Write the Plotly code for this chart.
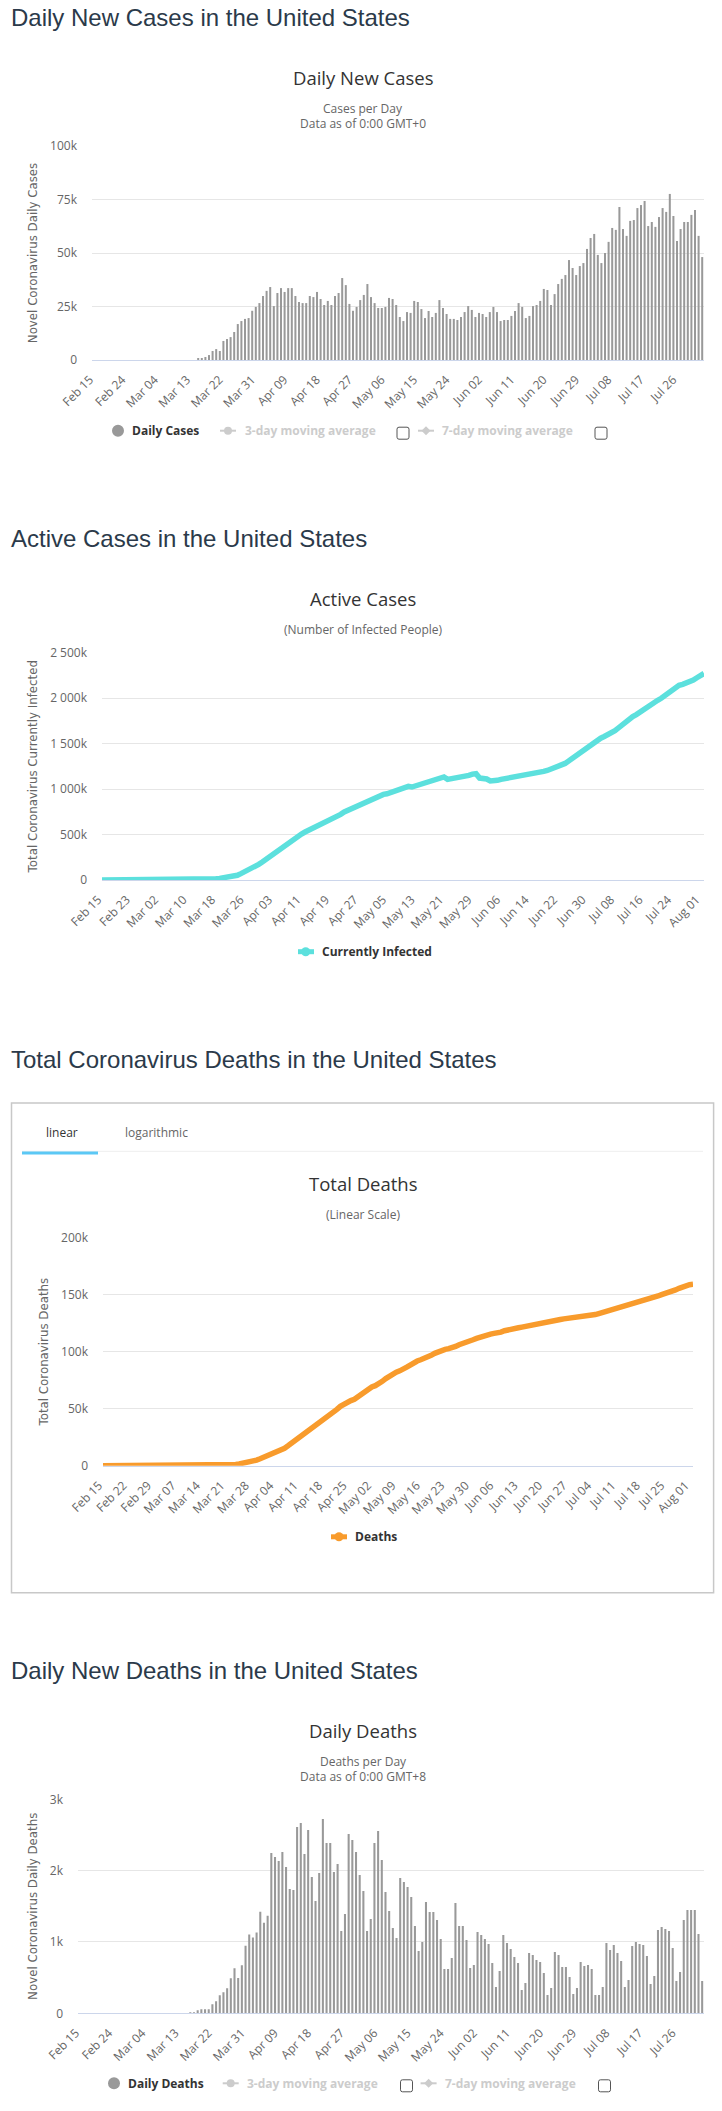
import pandas as pd
import plotly.graph_objects as go

dates = list(pd.date_range("2020-02-15", "2020-08-02").strftime("%b %d"))

daily_cases_k = [0] * 29 + [
    0.5, 0.5, 1.4, 2.3, 4.2, 5.1, 4.2, 8.9, 9.8, 10.7, 13.1, 16.8, 18.2, 19.2, 19.6, 23.0, 24.8, 26.6, 29.9, 32.3, 34.1,
    25.2, 31.3, 33.6, 31.8, 33.6, 33.6, 29.9, 27.1, 26.6, 26.6, 29.9, 29.4, 31.8, 28.5, 25.7, 27.6, 25.7, 29.9, 31.3,
    38.3, 35.0, 26.2, 23.0, 24.8, 28.0, 30.4, 35.5, 29.4, 26.6, 24.3, 24.3, 24.8, 29.0, 28.5, 25.7, 20.1, 18.2, 22.4,
    22.0, 27.6, 27.1, 23.8, 19.6, 22.9, 20.1, 22.0, 28.0, 24.3, 21.5, 19.2, 19.2, 18.7, 20.1, 22.4, 25.2, 23.4, 20.1,
    22.0, 21.5, 20.1, 22.4, 24.8, 22.4, 18.2, 18.7, 18.7, 20.6, 22.9, 26.6, 24.8, 19.6, 20.6, 25.2, 25.7, 27.6, 33.2,
    32.7, 25.7, 30.8, 35.5, 37.9, 39.7, 46.7, 43.0, 39.7, 43.9, 45.3, 51.9, 57.0, 58.9, 49.1, 45.3, 50.0, 55.2, 61.7,
    60.8, 71.5, 61.2, 58.0, 65.0, 65.4, 71.0, 72.4, 74.3, 62.6, 64.5, 62.2, 66.8, 71.0, 69.2, 77.6, 67.3, 55.6, 61.2,
    64.5, 64.5, 67.8, 70.1, 58.0, 48.1]

active_cases_k = [0.01] * 28 + [
    5, 6, 8, 10, 13, 18, 22, 28, 34, 42, 52, 70, 88, 110, 128, 150, 172, 198, 227, 252, 285, 315, 340, 366, 395, 425,
    454, 480, 505, 527, 545, 564, 582, 604, 626, 644, 662, 684, 703, 721, 747, 765, 787, 809, 812, 830, 852, 874, 896,
    915, 930, 941, 948, 963, 981, 996, 1007, 1018, 1029, 1022, 1033, 1051, 1066, 1077, 1088, 1099, 1110, 1121, 1132,
    1106, 1113, 1120, 1124, 1124, 1135, 1150, 1164, 1168, 1120, 1120, 1110, 1088, 1088, 1095, 1106, 1113, 1117, 1117,
    1124, 1131, 1139, 1150, 1153, 1157, 1168, 1182, 1193, 1204, 1219, 1234, 1245, 1259, 1281, 1307, 1336, 1369, 1394,
    1412, 1438, 1467, 1500, 1537, 1558, 1577, 1595, 1617, 1642, 1672, 1708, 1737, 1770, 1796, 1818, 1847, 1876, 1891,
    1927, 1953, 1975, 1997, 2026, 2055, 2088, 2117, 2139, 2150, 2161, 2172, 2197, 2223, 2248, 2270]

total_deaths_k = [0.01] * 31 + [
    0.1, 0.15, 0.2, 0.3, 0.35, 0.5, 0.8, 1.2, 1.6, 2.1, 2.6, 3.3, 4.1, 5.0, 6.2, 7.4, 8.6, 9.8, 11.0, 11.8, 13.3, 15.4,
    17.5, 19.8, 21.9, 24.0, 25.8, 27.5, 30.2, 32.9, 35.2, 37.9, 40.0, 41.7, 43.8, 46.8, 49.4, 52.1, 54.2, 55.6, 57.1,
    58.3, 60.7, 63.0, 65.4, 67.5, 69.0, 70.2, 71.6, 74.0, 76.4, 78.7, 80.5, 82.0, 83.2, 84.4, 86.4, 88.2, 90.3, 91.8,
    92.9, 93.8, 95.0, 96.8, 98.5, 100.0, 101.2, 102.0, 102.6, 103.2, 104.6, 106.1, 107.5, 108.7, 109.6, 110.4, 111.6,
    112.8, 113.9, 114.8, 115.4, 116.0, 116.3, 117.1, 118.3, 119.2, 120.0, 120.6, 120.9, 121.5, 122.0, 122.9, 123.5,
    124.4, 125.0, 125.2, 125.5, 126.1, 127.0, 127.5, 128.1, 128.7, 129.0, 129.3, 129.6, 130.2, 130.7, 131.3, 131.9,
    132.2, 132.5, 133.4, 134.3, 135.1, 136.3, 137.2, 137.8, 138.4, 139.0, 139.8, 140.7, 141.9, 142.7, 143.6, 144.2,
    145.1, 146.2, 147.7, 148.8, 150.0, 150.9, 151.4, 152.6, 154.1, 155.5, 156.7, 157.8, 158.7, 159.0]

daily_deaths = [0] * 30 + [
    14, 14, 42, 56, 56, 56, 126, 168, 252, 294, 350, 491, 631, 495, 673, 948, 1103, 1061, 1131, 1425, 1271, 1369, 2248,
    2192, 2136, 2262, 2051, 1743, 1729, 2612, 2668, 2234, 2570, 1911, 1575, 1967, 2724, 2388, 2388, 1981, 2093, 1154,
    1393, 2514, 2430, 2262, 1939, 1715, 1154, 1322, 2388, 2556, 2150, 1701, 1435, 1196, 1056, 1897, 1841, 1771, 1631,
    1224, 874, 1000, 1561, 1421, 1421, 1308, 1042, 622, 622, 776, 1547, 1224, 1224, 1028, 636, 678, 1140, 1098, 1042,
    972, 706, 369, 593, 1098, 986, 902, 790, 706, 327, 425, 846, 818, 748, 720, 565, 257, 355, 860, 818, 650, 650, 509,
    271, 355, 720, 664, 678, 622, 257, 257, 369, 986, 888, 958, 846, 734, 369, 467, 944, 1000, 972, 958, 804, 411, 523,
    1168, 1210, 1182, 1154, 916, 453, 579, 1308, 1449, 1449, 1449, 1112, 453]

for series in (daily_cases_k, active_cases_k, total_deaths_k, daily_deaths):
    assert len(series) == len(dates), len(series)

W, H = 722, 2111
C_TEXT, C_TICK, C_GRID, C_AXIS = "#333333", "#666666", "#e6e6e6", "#ccd6eb"
HEAD = "Liberation Sans"
BODY = "Open Sans"


def px(x):
    return x / W


def py(y):
    return 1 - y / H


fig = go.Figure()
notes, shapes = [], []


def note(text, x, y, size=12, color=C_TICK, anchor="center", family=BODY):
    notes.append(dict(text=text, x=px(x), y=py(y), xref="paper", yref="paper", showarrow=False, xanchor=anchor,
                      yanchor="middle", font=dict(size=size, color=color, family=family)))


def panel(n, box, yvals, ylabels, ymax, ytitle, step, standoff, trace):
    x0, x1, y0, y1 = box
    fig.add_trace(trace.update(xaxis=f"x{n}", yaxis=f"y{n}"))
    is_bar = isinstance(trace, go.Bar)
    rng = [-0.5, len(dates) - 0.5] if is_bar else [0, len(dates) - 1]
    fig.update_layout({
        f"xaxis{n}": dict(domain=[px(x0), px(x1)], anchor=f"y{n}", type="category", categoryorder="array",
                          categoryarray=dates, range=rng, tickmode="array", tickvals=dates[::step], tickangle=-45,
                          showgrid=False, zeroline=False, showline=True, linecolor=C_AXIS, linewidth=1, ticks="",
                          automargin=False, ticklabelstandoff=7, ticklabelshift=-4,
                          tickfont=dict(size=12, color=C_TICK, family=BODY)),
        f"yaxis{n}": dict(domain=[py(y1), py(y0)], anchor=f"x{n}", range=[0, ymax], tickmode="array", tickvals=yvals,
                          ticktext=ylabels, gridcolor=C_GRID, gridwidth=1, zeroline=False, showline=False, ticks="",
                          automargin=False, ticklabelstandoff=14, tickfont=dict(size=12, color=C_TICK, family=BODY),
                          title=dict(text=ytitle, standoff=standoff,
                                     font=dict(size=11.8, color=C_TICK, family="DejaVu Sans"))),
    })


panel(1, (92, 704, 146, 360), [0, 25, 50, 75, 100], ["0", "25k", "50k", "75k", "100k"], 100,
      "Novel Coronavirus Daily Cases", 9, 9,
      go.Bar(x=dates, y=daily_cases_k, marker=dict(color="#999999", line_width=0), name="Daily Cases"))
panel(2, (102, 704, 652.5, 880), [0, 500, 1000, 1500, 2000, 2500], ["0", "500k", "1 000k", "1 500k", "2 000k", "2 500k"],
      2500, "Total Coronavirus Currently Infected", 8, 9,
      go.Scatter(x=dates, y=active_cases_k, mode="lines", line=dict(color="#5ce0dd", width=5.5), name="Currently Infected"))
panel(3, (103, 693, 1237.5, 1465.8), [0, 50, 100, 150, 200], ["0", "50k", "100k", "150k", "200k"], 200,
      "Total Coronavirus Deaths", 7, 9,
      go.Scatter(x=dates, y=total_deaths_k, mode="lines", line=dict(color="#f89b2c", width=5.5), name="Deaths"))
panel(4, (78, 704, 1799.3, 2013.3), [0, 1000, 2000, 3000], ["0", "1k", "2k", "3k"], 3000,
      "Novel Coronavirus Daily Deaths", 9, 9,
      go.Bar(x=dates, y=daily_deaths, marker=dict(color="#999999", line_width=0), name="Daily Deaths"))

# section headings
for text, y in [("Daily New Cases in the United States", 17.7), ("Active Cases in the United States", 538.3),
                ("Total Coronavirus Deaths in the United States", 1059.6), ("Daily New Deaths in the United States", 1670.7)]:
    note(text, 8.5, y, 24, "#2b3a4a", "left", HEAD)

# chart titles and subtitles
CX = 363
for text, y in [("Daily New Cases", 78), ("Active Cases", 598.7), ("Total Deaths", 1183.6), ("Daily Deaths", 1730.7)]:
    note(text, CX, y, 18.5, C_TEXT)
for text, y in [("Cases per Day", 108.5), ("Data as of 0:00 GMT+0", 123.2), ("(Number of Infected People)", 629.2),
                ("(Linear Scale)", 1214.5), ("Deaths per Day", 1761.5), ("Data as of 0:00 GMT+8", 1776.2)]:
    note(text, CX, y, 12)


def rect(x0, y0, x1, y1, **kw):
    shapes.append(dict(type="rect", xref="paper", yref="paper", x0=px(x0), x1=px(x1), y0=py(y0), y1=py(y1), **kw))


def seg(x0, y0, x1, y1, color, width):
    shapes.append(dict(type="line", xref="paper", yref="paper", x0=px(x0), x1=px(x1), y0=py(y0), y1=py(y1),
                       line=dict(color=color, width=width)))


def dot(x, y, r, color):
    shapes.append(dict(type="circle", xref="paper", yref="paper", x0=px(x - r), x1=px(x + r), y0=py(y - r), y1=py(y + r),
                       fillcolor=color, line_width=0))


def diamond(x, y, r, color):
    path = f"M{px(x - r)},{py(y)} L{px(x)},{py(y - r)} L{px(x + r)},{py(y)} L{px(x)},{py(y + r)} Z"
    shapes.append(dict(type="path", xref="paper", yref="paper", path=path, fillcolor=color, line_width=0))


def checkbox(x0, y0, size=12):
    x1, y1, r = x0 + size, y0 + size, 2
    p = (f"M{px(x0 + r)},{py(y0)} L{px(x1 - r)},{py(y0)} Q{px(x1)},{py(y0)} {px(x1)},{py(y0 + r)} "
         f"L{px(x1)},{py(y1 - r)} Q{px(x1)},{py(y1)} {px(x1 - r)},{py(y1)} L{px(x0 + r)},{py(y1)} "
         f"Q{px(x0)},{py(y1)} {px(x0)},{py(y1 - r)} L{px(x0)},{py(y0 + r)} Q{px(x0)},{py(y0)} {px(x0 + r)},{py(y0)} Z")
    shapes.append(dict(type="path", xref="paper", yref="paper", path=p, fillcolor="white", line=dict(color="#555555", width=1)))


def avg_legend(y, m3, t3, c3, m7, t7, c7):
    seg(m3 - 8, y, m3 + 8, y, "#cccccc", 2)
    dot(m3, y, 4, "#cccccc")
    note("<b>3-day moving average</b>", t3, y, 12, "#cccccc", "left")
    checkbox(c3, y - 3.5)
    seg(m7 - 8, y, m7 + 8, y, "#cccccc", 2)
    diamond(m7, y, 4.5, "#cccccc")
    note("<b>7-day moving average</b>", t7, y, 12, "#cccccc", "left")
    checkbox(c7, y - 3.5)


# legends
dot(118, 430.7, 6, "#999999")
note("<b>Daily Cases</b>", 130, 430.7, 12, C_TEXT, "left")
avg_legend(430.7, 228, 242.6, 397, 426, 439.7, 595)

dot(114, 2083.3, 6, "#999999")
note("<b>Daily Deaths</b>", 126, 2083.3, 12, C_TEXT, "left")
avg_legend(2083.3, 230.7, 245, 400.5, 428.6, 442.5, 598.5)

seg(298, 951.7, 314, 951.7, "#5ce0dd", 5)
dot(305.7, 951.7, 4.5, "#5ce0dd")
note("<b>Currently Infected</b>", 319.5, 951.7, 12, C_TEXT, "left")

seg(331, 1536.8, 347, 1536.8, "#f89b2c", 5)
dot(339, 1536.8, 4.5, "#f89b2c")
note("<b>Deaths</b>", 352.7, 1536.8, 12, C_TEXT, "left")

# bordered box with tabs around the third chart
rect(11.5, 1103, 713.6, 1592.7, line=dict(color="#c8c8c8", width=1.5), layer="below")
seg(22, 1151.3, 703, 1151.3, "#eeeeee", 1)
rect(22, 1151.5, 98, 1154.5, fillcolor="#5bc8f5", line_width=0)
note("linear", 62, 1132.5, 12, C_TEXT)
note("logarithmic", 156.5, 1132.5, 12, C_TICK)

fig.update_layout(width=W, height=H, margin=dict(l=0, r=0, t=0, b=0), paper_bgcolor="white", plot_bgcolor="white",
                  showlegend=False, bargap=0.44, annotations=notes, shapes=shapes)

fig.write_html("out.html", config={"displayModeBar": False},
               post_script="document.body.style.margin='0';document.documentElement.style.overflow='hidden';")
